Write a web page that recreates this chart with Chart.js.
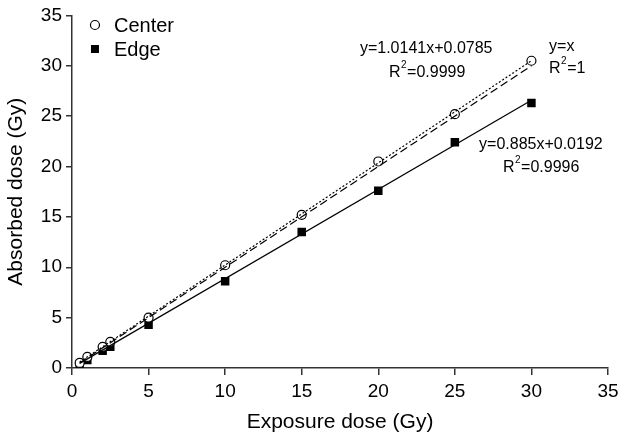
<!DOCTYPE html>
<html>
<head>
<meta charset="utf-8">
<script src="https://cdn.jsdelivr.net/npm/chart.js@4"></script>
<style>
  html, body { margin: 0; padding: 0; background: #fff; }
  #wrap { width: 624px; height: 439px; }
</style>
</head>
<body>
<div id="wrap"><canvas id="doseChart" width="624" height="439"></canvas></div>
<script>
// Exposure dose (Gy) and measured absorbed dose (Gy)
const exposure = [0.5, 1, 2, 2.5, 5, 10, 15, 20, 25, 30];
const centerDose = [0.5, 1.1, 2.1, 2.6, 5.0, 10.2, 15.2, 20.5, 25.2, 30.5];
const edgeDose = [0.4, 0.8, 1.7, 2.1, 4.3, 8.6, 13.5, 17.6, 22.4, 26.3];

// Fit line end points (x from 0.5 to 30)
const fitX = [0.5, 30];
const centerFit = [0.59, 30.5];
const edgeFit = [0.46, 26.57];
const identityLine = [0.5, 30];

const xTicks = [0, 5, 10, 15, 20, 25, 30, 35];
const yTicks = [0, 5, 10, 15, 20, 25, 30, 35];

const FONT = '"Liberation Sans", Arial, sans-serif';
const toXY = (xs, ys) => xs.map((x, i) => ({ x: x, y: ys[i] }));

// Draws fit equations and the legend inside the plot
const notesPlugin = {
  id: 'notes',
  afterDraw(chart) {
    const ctx = chart.ctx;
    const xs = chart.scales.x;
    const ys = chart.scales.y;
    ctx.save();
    ctx.fillStyle = '#000';
    ctx.textBaseline = 'middle';
    ctx.textAlign = 'left';

    function label(text, dx, dy) {
      ctx.font = '16px ' + FONT;
      ctx.fillText(text, xs.getPixelForValue(dx), ys.getPixelForValue(dy));
    }
    function rSquared(text, dx, dy) {
      const px = xs.getPixelForValue(dx);
      const py = ys.getPixelForValue(dy);
      ctx.font = '16px ' + FONT;
      const rw = ctx.measureText('R').width;
      ctx.fillText('R', px, py);
      ctx.font = '10px ' + FONT;
      const sw = ctx.measureText('2').width;
      ctx.fillText('2', px + rw + 0.5, py - 7);
      ctx.font = '16px ' + FONT;
      ctx.fillText(text, px + rw + sw + 1, py);
    }

    label('y=1.0141x+0.0785', 18.8, 31.7);
    rSquared('=0.9999', 20.7, 29.35);
    label('y=x', 31.15, 31.9);
    rSquared('=1', 31.15, 29.75);
    label('y=0.885x+0.0192', 26.58, 22.2);
    rSquared('=0.9996', 28.14, 19.93);

    // legend
    const lx = xs.getPixelForValue(1.5);
    ctx.lineWidth = 1.2;
    ctx.strokeStyle = '#000';
    ctx.fillStyle = '#fff';
    ctx.beginPath();
    ctx.arc(lx, 25, 4.5, 0, Math.PI * 2);
    ctx.fill();
    ctx.stroke();
    ctx.fillStyle = '#000';
    ctx.fillRect(lx - 4, 45, 8, 8);
    ctx.font = '20px ' + FONT;
    ctx.fillText('Center', lx + 19, 26);
    ctx.fillText('Edge', lx + 19, 50);
    ctx.restore();
  }
};

const ctx = document.getElementById('doseChart').getContext('2d');
new Chart(ctx, {
  type: 'scatter',
  data: {
    datasets: [
      {
        label: 'y=x',
        data: toXY(fitX, identityLine),
        showLine: true,
        borderColor: '#000',
        borderWidth: 1.2,
        borderDash: [8, 4],
        pointRadius: 0
      },
      {
        label: 'Center fit',
        data: toXY(fitX, centerFit),
        showLine: true,
        borderColor: '#000',
        borderWidth: 1.2,
        borderDash: [2, 2],
        pointRadius: 0
      },
      {
        label: 'Edge fit',
        data: toXY(fitX, edgeFit),
        showLine: true,
        borderColor: '#000',
        borderWidth: 1.2,
        pointRadius: 0
      },
      {
        label: 'Center',
        data: toXY(exposure, centerDose),
        pointStyle: 'circle',
        pointRadius: 4.5,
        pointBackgroundColor: '#fff',
        pointBorderColor: '#000',
        pointBorderWidth: 1.2
      },
      {
        label: 'Edge',
        data: toXY(exposure, edgeDose),
        pointStyle: 'rect',
        pointRadius: 6,
        pointBackgroundColor: '#000',
        pointBorderColor: '#000',
        pointBorderWidth: 0
      }
    ]
  },
  options: {
    responsive: false,
    animation: false,
    layout: { padding: { top: 15, right: 16, left: 0, bottom: 0 } },
    plugins: {
      legend: { display: false },
      tooltip: { enabled: false }
    },
    scales: {
      x: {
        type: 'linear',
        min: 0,
        max: 35,
        afterBuildTicks: s => { s.ticks = xTicks.map(v => ({ value: v })); },
        afterFit: s => { s.height = 71; },
        border: { display: true, color: '#333', width: 1.5 },
        grid: { display: true, drawOnChartArea: false, tickLength: 7, color: '#333', lineWidth: 1.5 },
        ticks: { color: '#000', font: { family: FONT, size: 19 }, padding: 5, maxRotation: 0 },
        title: { display: true, text: 'Exposure dose (Gy)', color: '#000', font: { family: FONT, size: 21 }, padding: { top: 6 } }
      },
      y: {
        type: 'linear',
        min: 0,
        max: 35,
        afterBuildTicks: s => { s.ticks = yTicks.map(v => ({ value: v })); },
        afterFit: s => { s.width = 72; },
        border: { display: true, color: '#333', width: 1.5 },
        grid: { display: true, drawOnChartArea: false, tickLength: 6, color: '#333', lineWidth: 1.5 },
        ticks: { color: '#000', font: { family: FONT, size: 19 }, padding: 4 },
        title: { display: true, text: 'Absorbed dose (Gy)', color: '#000', font: { family: FONT, size: 21 }, padding: { top: 4 } }
      }
    }
  },
  plugins: [notesPlugin]
});
</script>
</body>
</html>
